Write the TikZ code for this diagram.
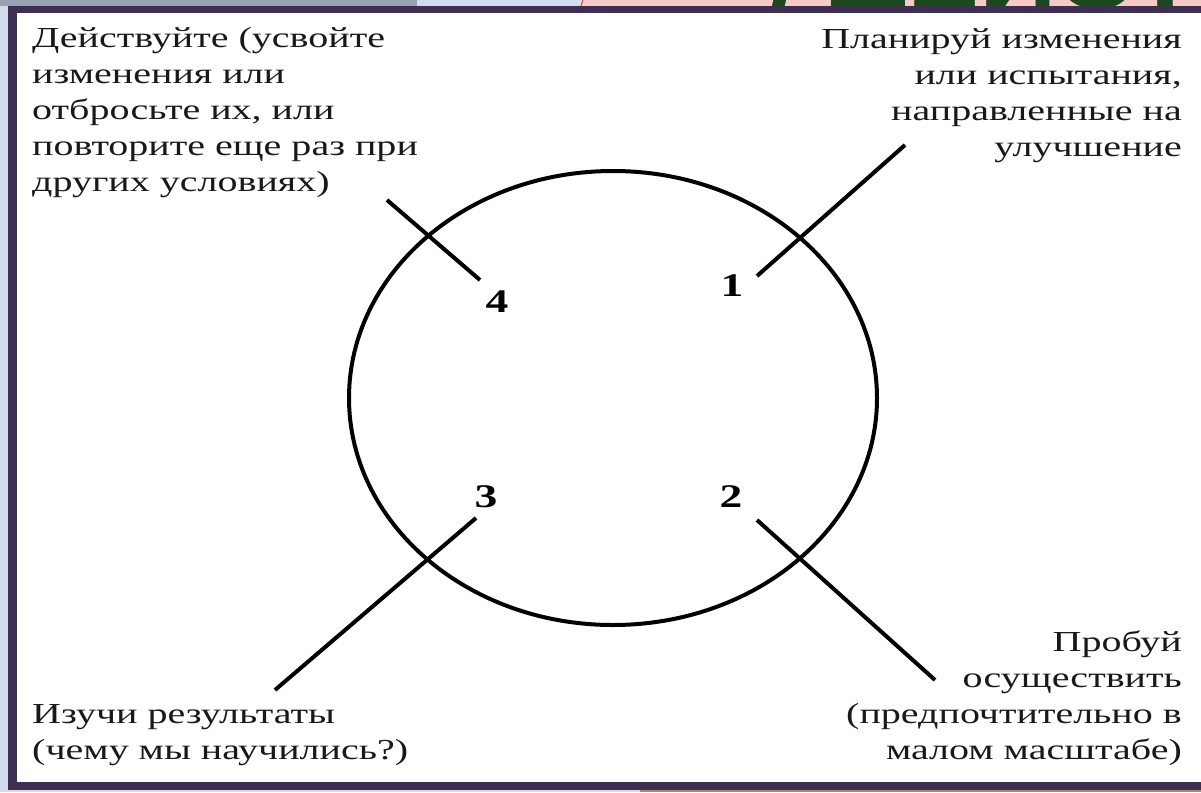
\documentclass[tikz,border=0pt]{standalone}
\usepackage{fontspec}
\setmainfont{Liberation Serif}[FakeStretch=1.38]
\newfontfamily\headfont{Liberation Sans}[FakeStretch=1.2]
\definecolor{framepurple}{HTML}{3E2E52}
\definecolor{slidegrey}{HTML}{98A2B5}
\definecolor{slideblue}{HTML}{D3DCEE}
\definecolor{slidepink}{HTML}{F7C9C9}
\definecolor{slidered}{HTML}{D04848}
\definecolor{slidebrown}{HTML}{A8876A}
\definecolor{headgreen}{HTML}{1A4A1C}
\begin{document}
\begin{tikzpicture}[x=1pt,y=-1pt,
    note/.style={inner sep=0pt, text=black!90, font=\fontsize{29pt}{36pt}\selectfont},
    num/.style={inner sep=0pt, font=\fontsize{33pt}{36pt}\selectfont\bfseries},
    spoke/.style={line width=4pt}]
    \useasboundingbox (0,0) rectangle (1201,792);
    \path[fill=slideblue] (0,0) rectangle (1201,792);
    \path[fill=slidegrey] (0,0) rectangle (417,6);
    \path[fill=slidepink] (582,0) rectangle (1201,6);
    \draw[slidered, line width=1pt] (583,0) -- (581,6);
    \path[fill=slidebrown] (640,790) rectangle (1201,792);
    \begin{scope}
        \clip (582,0) rectangle (1201,6);
        \node[anchor=base west, inner sep=0pt, text depth=0pt, text=headgreen,
              font=\headfont\bfseries\fontsize{90pt}{90pt}\selectfont]
              (head) at (770,9) {/ ДЕЙСТВУЙ};
    \end{scope}
    \path[fill=framepurple] (8,6) rectangle (1201,790);
    \path[fill=white] (17,13) rectangle (1201,782);

    \draw[spoke] (613,398) ellipse [x radius=264, y radius=227];

    \foreach \n/\ix/\iy/\ox/\oy in {1/757/276/905/145, 2/757/520/935/680,
                                   3/476/518/275/690, 4/480/280/387/200}
    {
        \coordinate (in\n) at (\ix,\iy);
        \coordinate (out\n) at (\ox,\oy);
        \draw[spoke] (in\n) -- (out\n);
    }

    \node[num] (n1) at (732,286) {1};
    \node[num] (n2) at (731,497) {2};
    \node[num] (n3) at (486,497) {3};
    \node[num] (n4) at (497,302) {4};

    \node[note, anchor=north west, align=left] (act) at (32,27)
        {Действуйте (усвойте\\изменения или\\отбросьте их, или\\повторите еще раз при\\других условиях)};
    \node[note, anchor=north east, align=right] (plan) at (1182,28)
        {Планируй изменения\\или испытания,\\направленные на\\улучшение};
    \node[note, anchor=south east, align=right] (try) at (1182,766)
        {Пробуй\\осуществить\\(предпочтительно в\\малом масштабе)};
    \node[note, anchor=south west, align=left] (study) at (32,766)
        {Изучи результаты\\(чему мы научились?)};
\end{tikzpicture}
\end{document}
